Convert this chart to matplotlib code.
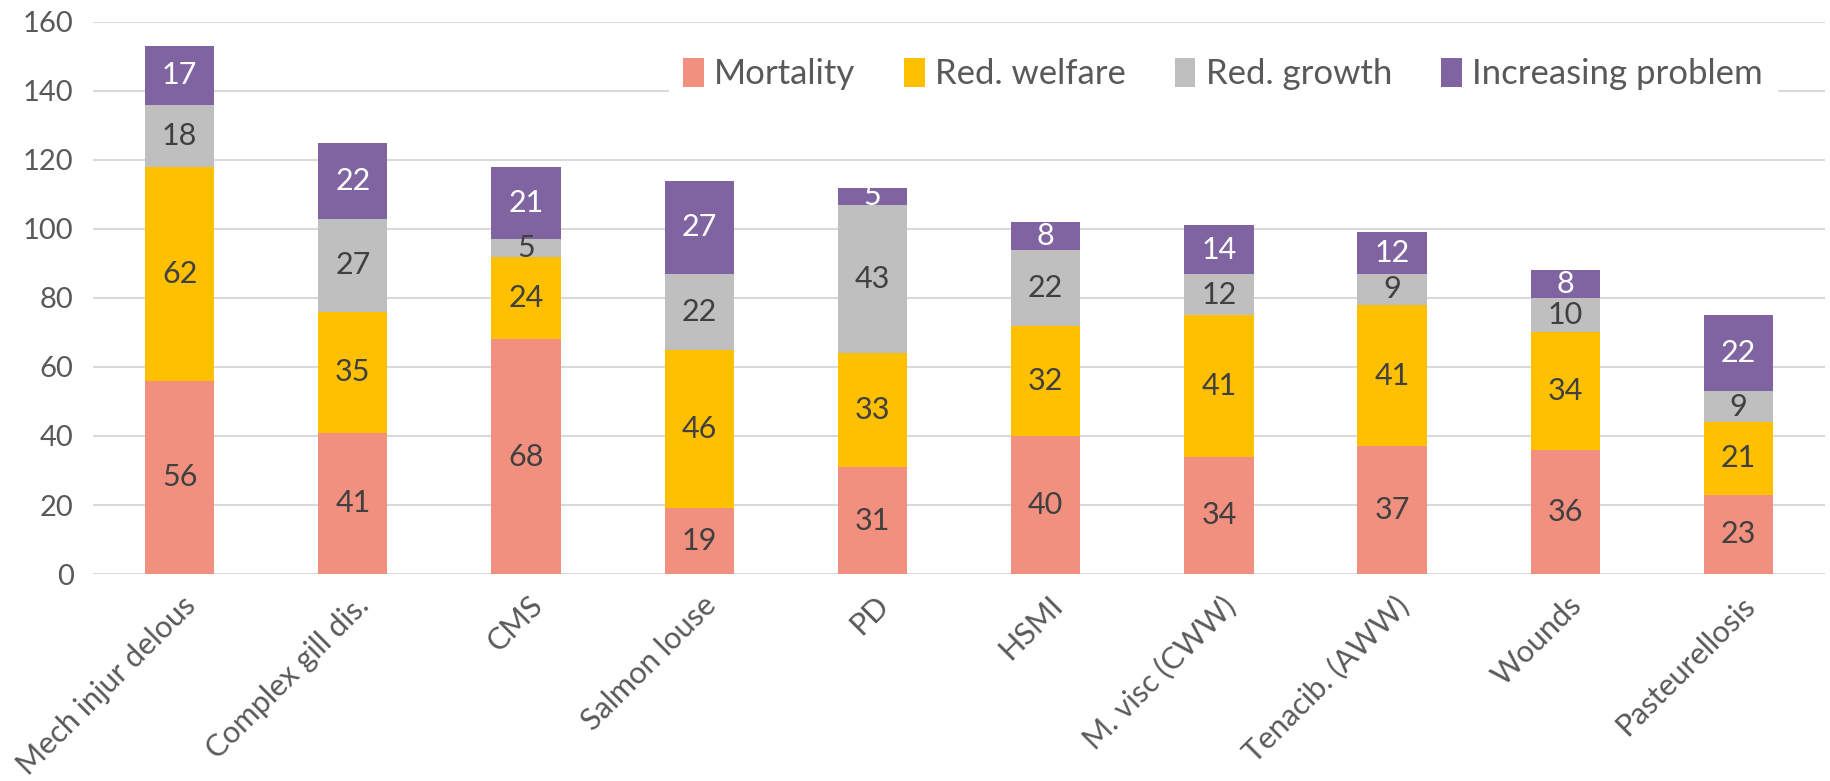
import numpy as np
import matplotlib
matplotlib.use("Agg")
import matplotlib.pyplot as plt

plt.rcParams['font.family'] = ['Lato', 'DejaVu Sans']

categories = ["Mech injur delous", "Complex gill dis.", "CMS", "Salmon louse", "PD",
              "HSMI", "M. visc (CWW)", "Tenacib. (AWW)", "Wounds", "Pasteurellosis"]
mortality = [56, 41, 68, 19, 31, 40, 34, 37, 36, 23]
red_welfare = [62, 35, 24, 46, 33, 32, 41, 41, 34, 21]
red_growth = [18, 27, 5, 22, 43, 22, 12, 9, 10, 9]
increasing = [17, 22, 21, 27, 5, 8, 14, 12, 8, 22]

series = [("Mortality", mortality, "#F1907F", "#404040"),
          ("Red. welfare", red_welfare, "#FFC000", "#404040"),
          ("Red. growth", red_growth, "#BFBFBF", "#404040"),
          ("Increasing problem", increasing, "#8064A2", "white")]

fig = plt.figure(figsize=(18.31, 7.81), dpi=100)
ax = fig.add_axes([0.0508, 0.265, 0.946, 0.707])

x = np.arange(len(categories))
bottom = np.zeros(len(categories))
for name, vals, col, tcol in series:
    vals = np.array(vals)
    bars = ax.bar(x, vals, 0.4, bottom=bottom, color=col, label=name, zorder=2)
    for xi, b, v in zip(x, bottom, vals):
        ax.text(xi, b + v / 2, str(v), ha='center', va='center',
                fontsize=22, color=tcol, zorder=3)
    bottom += vals

ax.set_xlim(-0.5, len(categories) - 0.5)
ax.set_ylim(0, 160)
ax.set_yticks(range(0, 161, 20))
ax.yaxis.grid(True, color="#D9D9D9", lw=1.5, zorder=0)
ax.set_axisbelow(True)
for s in ax.spines.values():
    s.set_visible(False)
ax.tick_params(axis='both', length=0, labelsize=21, colors="#595959")
ax.tick_params(axis='y', pad=14)
ax.tick_params(axis='x', labelsize=22)
ax.set_xticks(x)
ax.set_xticklabels(categories, rotation=45, ha='right', rotation_mode='anchor')
for lbl in ax.get_xticklabels():
    lbl.set_transform(lbl.get_transform() + matplotlib.transforms.ScaledTranslation(0.02, -0.12, fig.dpi_scale_trans))

leg = ax.legend(loc='upper right', bbox_to_anchor=(0.972, 0.96), ncol=4, frameon=True,
                fontsize=25, handlelength=0.6, handleheight=0.9, handletextpad=0.3,
                columnspacing=1.4, borderaxespad=0)
leg.get_frame().set_edgecolor('white')
leg.get_frame().set_facecolor('white')
leg.get_frame().set_alpha(1)
for t in leg.get_texts():
    t.set_color("#595959")

fig.savefig("out.png", dpi=100)
